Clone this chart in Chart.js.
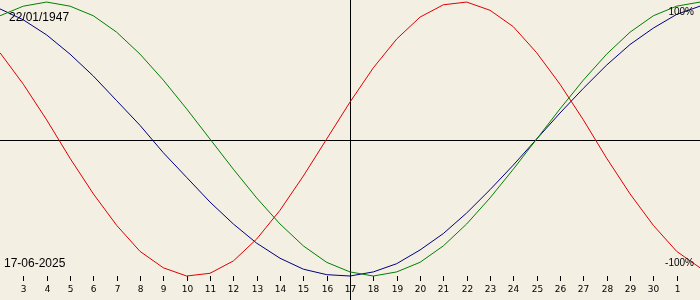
<!DOCTYPE html>
<html>
<head>
<meta charset="utf-8">
<script src="https://cdn.jsdelivr.net/npm/chart.js@4"></script>
<style>
    html, body { margin: 0; padding: 0; background: #f3efe3; }
    #wrap { width: 700px; height: 300px; }
</style>
</head>
<body>
<div id="wrap"><canvas id="bioChart"></canvas></div>
<script>
// Days shown: 2 June .. 2 July
const dayLabels = ['2', '3', '4', '5', '6', '7', '8', '9', '10', '11', '12', '13', '14', '15', '16',
    '17', '18', '19', '20', '21', '22', '23', '24', '25', '26', '27', '28', '29', '30', '1', '2'];

// Biorhythm values in percent, one per day
const physical = [63, 40, 14, -14, -40, -63, -82, -94, -100, -98, -89, -73, -52, -27, 0,
    27, 52, 73, 89, 98, 100, 94, 82, 63, 40, 14, -14, -40, -63, -82, -94];
const emotional = [90, 97, 100, 97, 90, 78, 62, 43, 22, 0, -22, -43, -62, -78, -90,
    -97, -100, -97, -90, -78, -62, -43, -22, 0, 22, 43, 62, 78, 90, 97, 100];
const intellectual = [95, 87, 76, 62, 46, 28, 10, -10, -28, -46, -62, -76, -87, -95, -99,
    -100, -97, -91, -81, -69, -54, -37, -19, 0, 19, 37, 54, 69, 81, 91, 97];

const birthDate = '22/01/1947';
const currentDate = '17-06-2025';
const currentDay = '17';

document.addEventListener('DOMContentLoaded', function () {
    // background, cross lines, day ticks and captions
    const decor = {
        id: 'decor',
        beforeDraw(chart) {
            const ctx = chart.ctx;
            ctx.save();
            ctx.fillStyle = '#f3efe3';
            ctx.fillRect(0, 0, chart.width, chart.height);
            ctx.restore();
        },
        beforeDatasetsDraw(chart) {
            const ctx = chart.ctx;
            const x = chart.scales.x, y = chart.scales.y;
            ctx.save();
            ctx.strokeStyle = '#000';
            ctx.lineWidth = 1;
            const y0 = Math.round(y.getPixelForValue(0)) + 1.5;
            const xc = Math.round(x.getPixelForValue(dayLabels.indexOf(currentDay))) + 0.5;
            ctx.beginPath();
            ctx.moveTo(0, y0); ctx.lineTo(chart.width, y0);
            ctx.moveTo(xc, 0); ctx.lineTo(xc, chart.height);
            ctx.stroke();

            // small ticks + day numbers along the bottom
            ctx.fillStyle = '#000';
            ctx.font = '9px "DejaVu Sans"';
            ctx.textAlign = 'center';
            ctx.textBaseline = 'middle';
            for (let i = 1; i < dayLabels.length - 1; i++) {
                const px = Math.round(x.getPixelForValue(i)) + 0.5;
                ctx.beginPath();
                ctx.moveTo(px, 276); ctx.lineTo(px, 281);
                ctx.stroke();
                ctx.fillText(dayLabels[i], px, 289.5);
            }
            ctx.restore();
        },
        afterDraw(chart) {
            const ctx = chart.ctx;
            ctx.save();
            ctx.fillStyle = '#000';
            ctx.textBaseline = 'alphabetic';
            ctx.font = '12px "Liberation Sans"';
            ctx.textAlign = 'left';
            ctx.fillText(birthDate, 9, 21);
            ctx.fillText(currentDate, 4, 267);
            ctx.font = '10px "Liberation Sans"';
            ctx.textAlign = 'right';
            ctx.fillText('100%', 694, 15);
            ctx.fillText('-100%', 694, 266);
            ctx.restore();
        }
    };

    const ctx = document.getElementById('bioChart').getContext('2d');
    new Chart(ctx, {
        type: 'line',
        data: {
            labels: dayLabels,
            datasets: [
                { label: 'Physical', data: physical, borderColor: '#e00000' },
                { label: 'Emotional', data: emotional, borderColor: '#008000' },
                { label: 'Intellectual', data: intellectual, borderColor: '#000080' }
            ]
        },
        options: {
            responsive: true,
            maintainAspectRatio: false,
            animation: false,
            layout: { padding: 0 },
            elements: {
                line: { borderWidth: 1, tension: 0, fill: false },
                point: { radius: 0 }
            },
            plugins: {
                legend: { display: false },
                tooltip: { enabled: false }
            },
            scales: {
                x: { display: false, offset: false },
                y: { display: false, min: -117.5, max: 101.5 }
            }
        },
        plugins: [decor]
    });
});
</script>
</body>
</html>
